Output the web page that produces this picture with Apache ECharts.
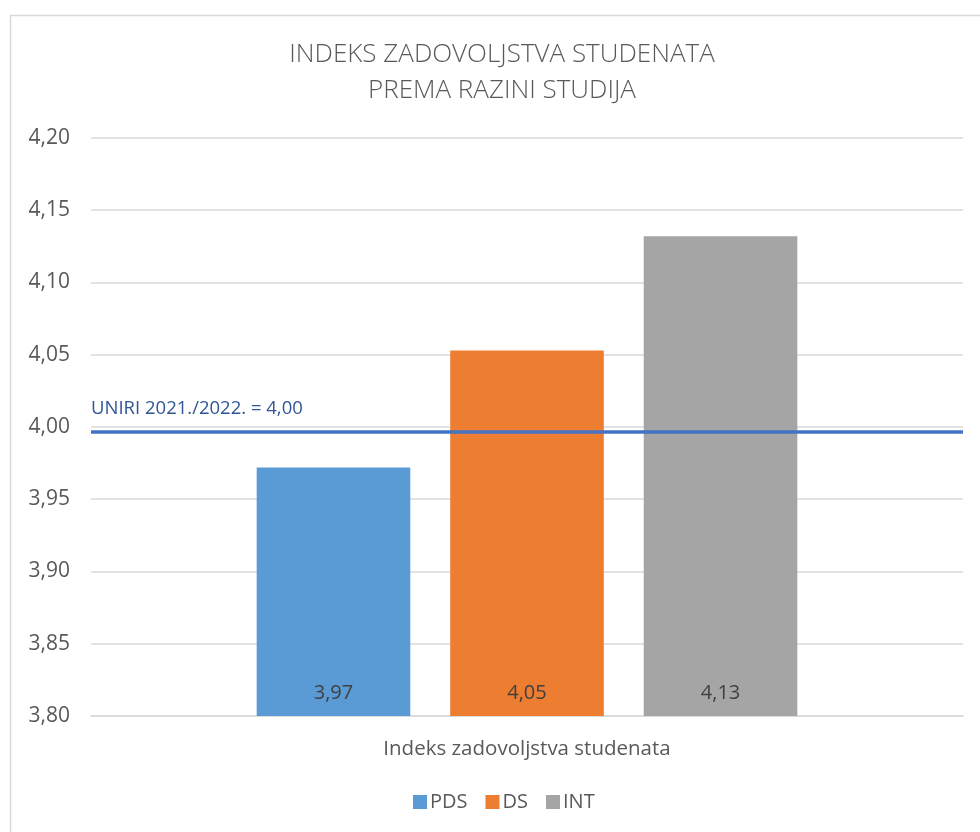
<!DOCTYPE html>
<html>
<head>
<meta charset="utf-8">
<script src="https://cdn.jsdelivr.net/npm/echarts@6/dist/echarts.min.js"></script>
<style>
html,body{margin:0;padding:0;background:#fff;}
#c{width:980px;height:832px;}
</style>
</head>
<body>
<div id="c"></div>
<script>
var categories = ['Indeks zadovoljstva studenata'];
var seriesNames = ['PDS', 'DS', 'INT'];
var pdsValues = [3.972];
var dsValues = [4.053];
var intValues = [4.132];
var referenceValue = 3.997;
var referenceLabel = 'UNIRI 2021./2022. = 4,00';
var titleText = 'INDEKS ZADOVOLJSTVA STUDENATA\nPREMA RAZINI STUDIJA';
var yMin = 3.80, yMax = 4.20, yStep = 0.05;

var colors = ['#5B9BD5', '#ED7D31', '#A5A5A5'];
var FONT = '"Open Sans", sans-serif';

function fmt(v) { return v.toFixed(2).replace('.', ','); }

var chart = echarts.init(document.getElementById('c'), null, {renderer: 'canvas'});
var dataSets = [pdsValues, dsValues, intValues];

var series = seriesNames.map(function (name, i) {
  var s = {
    name: name,
    type: 'bar',
    data: dataSets[i],
    itemStyle: {color: colors[i]},
    barGap: '26%',
    barCategoryGap: '38%',
    label: {
      show: true,
      position: 'insideBottom',
      distance: 13,
      formatter: function (p) { return fmt(p.value); },
      color: '#404040',
      fontSize: 20,
      fontFamily: FONT
    },
    emphasis: {disabled: true}
  };
  if (i === 0) {
    s.markLine = {
      silent: true,
      symbol: 'none',
      precision: 4,
      data: [{yAxis: referenceValue}],
      lineStyle: {color: '#4472C4', width: 3.5, type: 'solid'},
      label: {
        show: true,
        position: 'insideStartTop',
        formatter: referenceLabel,
        color: '#2F5597',
        fontSize: 18.5,
        fontFamily: FONT,
        distance: [0, 13]
      }
    };
  }
  return s;
});

chart.setOption({
  animation: false,
  backgroundColor: '#fff',
  graphic: [{
    type: 'rect',
    left: 8, top: 13,
    shape: {width: 1000, height: 840},
    style: {fill: 'none', stroke: '#D9D9D9', lineWidth: 1.5},
    silent: true,
    z: -10
  }],
  title: {
    text: titleText,
    left: 497,
    top: 32,
    textAlign: 'center',
    textStyle: {
      fontFamily: FONT,
      fontWeight: 300,
      fontSize: 26,
      color: '#595959',
      lineHeight: 36
    }
  },
  legend: {
    data: seriesNames,
    left: 408,
    top: 787,
    itemWidth: 14,
    itemHeight: 14,
    itemGap: 18,
    icon: 'rect',
    textStyle: {fontFamily: FONT, fontSize: 20, color: '#595959', padding: [0, 0, 0, -2]}
  },
  grid: {left: 91, right: 17, top: 138, bottom: 116, containLabel: false},
  xAxis: {
    type: 'category',
    data: categories,
    axisLine: {lineStyle: {color: '#D9D9D9', width: 1.5}},
    axisTick: {show: false},
    axisLabel: {margin: 23, fontFamily: FONT, fontSize: 20.5, color: '#595959'}
  },
  yAxis: {
    type: 'value',
    min: yMin, max: yMax, interval: yStep,
    axisLine: {show: false},
    axisTick: {show: false},
    splitLine: {lineStyle: {color: '#D9D9D9', width: 1.5}},
    axisLabel: {
      margin: 21,
      fontFamily: FONT, fontSize: 21, color: '#595959',
      formatter: function (v) { return fmt(v); }
    }
  },
  series: series
});
</script>
</body>
</html>
